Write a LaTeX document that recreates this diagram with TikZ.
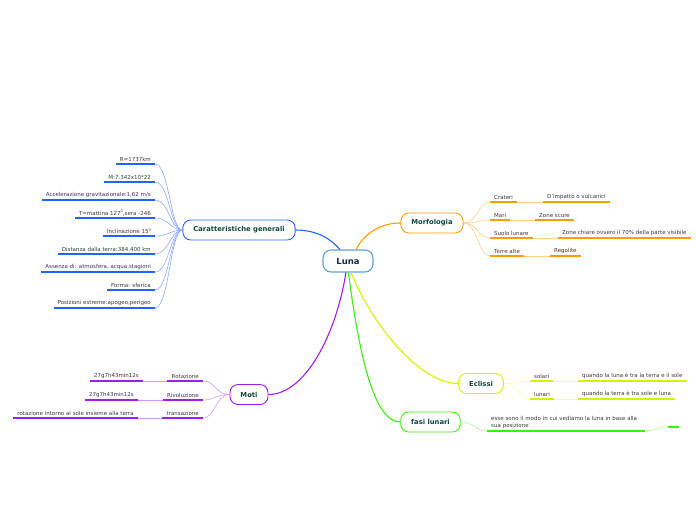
\documentclass[tikz,border=0pt]{standalone}
\usepackage{fontspec}
\setmainfont{DejaVu Sans}
\definecolor{cblue}{HTML}{2462FF}
\definecolor{cbluel}{HTML}{8EABFF}
\definecolor{corange}{HTML}{FF9C00}
\definecolor{corangel}{HTML}{FFD08A}
\definecolor{cyel}{HTML}{D2F200}
\definecolor{cyell}{HTML}{EEFFA0}
\definecolor{cgreen}{HTML}{3CEE14}
\definecolor{cgreenl}{HTML}{A6FF88}
\definecolor{cpurp}{HTML}{A21CF2}
\definecolor{cpurpl}{HTML}{D59AFF}
\definecolor{cluna}{HTML}{5EA2DA}
\definecolor{ctitle}{HTML}{0E4A3C}
\definecolor{cnavy}{HTML}{16284F}
\newcommand{\mydeg}{\raisebox{2.2pt}{\fontsize{3.6}{4}\selectfont 0}}
\begin{document}
\begin{tikzpicture}[x=1pt,y=-1pt,
  topic/.style={draw=#1, rounded corners=8pt, line width=0.9pt, fill=white,
     minimum height=20pt, inner xsep=10.5pt, font=\fontsize{6.8}{8}\selectfont\bfseries, text=ctitle},
  leaf/.style={font=\fontsize{5.5}{6.5}\selectfont, text=black!78, inner xsep=4pt, inner ysep=2pt},
  ul/.style={draw=#1, line width=1.4pt},
  conn/.style={draw=#1, line width=0.6pt},
  main/.style={draw=#1, line width=1.1pt}]
\useasboundingbox (0,0) rectangle (696,520);

% central
\node[draw=cluna, line width=1.1pt, rounded corners=8pt, fill=white, minimum width=50pt, minimum height=22pt,
  font=\fontsize{8.5}{9}\selectfont\bfseries, text=cnavy] (luna) at (348,261) {Luna};

% topics
\node[topic=cblue] (car) at (239,230) {Caratteristiche generali};
\node[topic=corange] (mor) at (432,223) {Morfologia};
\node[topic=cyel] (ecl) at (481,383.5) {Eclissi};
\node[topic=cgreen] (fas) at (430.5,422) {fasi lunari};
\node[topic=cpurp] (mot) at (249,394.5) {Moti};

% main connectors
\draw[main=cblue] (car.east) .. controls (318,230) and (332,240) .. (luna.125);
\draw[main=corange] (luna.55) .. controls (364,234) and (380,223) .. (mor.west);
\draw[main=cyel] (luna.-75) .. controls (372,325) and (420,383.5) .. (ecl.west);
\draw[main=cgreen] (luna.-88) .. controls (358,345) and (372,422) .. (fas.west);
\draw[main=cpurp] (luna.-100) .. controls (336,335) and (305,394.5) .. (mot.east);

% Caratteristiche generali leaves
\node[leaf, anchor=south east] (c1) at (155,164) {R=1737km};
\node[leaf, anchor=south east] (c2) at (155,182) {M:7.342x10*22};
\node[leaf, anchor=south east] (c3) at (155,200) {Accelerazione gravitazionale:1,62 m/s};
\node[leaf, anchor=south east] (c4) at (155,218) {T=mattina 127\mydeg,sera -246};
\node[leaf, anchor=south east] (c5) at (155,236) {Inclinazione 15\mydeg};
\node[leaf, anchor=south east] (c6) at (155,254) {Distanza dalla terra:384.400 km};
\node[leaf, anchor=south east] (c7) at (155,272) {Assenza di: atmosfera, acqua,stagioni};
\node[leaf, anchor=south east] (c8) at (155,290) {Forma: sferica};
\node[leaf, anchor=south east] (c9) at (155,308) {Posizioni estreme:apogeo,perigeo};
\foreach \n in {c1,c2,c3,c4,c5,c6,c7,c8,c9}{
  \draw[ul=cblue] (\n.south west) -- (\n.south east);
  \draw[conn=cbluel] (\n.south east) .. controls +(14,0) and +(-12,0) .. (car.west);
}

% Morfologia leaves
\node[leaf, anchor=south west] (m1) at (490,202) {Crateri};
\node[leaf, anchor=south west] (m2) at (490,220) {Mari};
\node[leaf, anchor=south west] (m3) at (490,238) {Suolo lunare};
\node[leaf, anchor=south west] (m4) at (490,256) {Terre alte};
\node[leaf, anchor=south west] (m1a) at (543,202) {D'impatto o vulcanici};
\node[leaf, anchor=south west] (m2a) at (535,220) {Zone scure};
\node[leaf, anchor=south west] (m3a) at (558,238) {Zone chiare ovvero il 70\% della parte visibile};
\node[leaf, anchor=south west] (m4a) at (550,256) {Regolite};
\foreach \n in {m1,m2,m3,m4}{
  \draw[ul=corange] (\n.south west) -- (\n.south east);
  \draw[conn=corangel] (mor.east) .. controls +(14,0) and +(-12,0) .. (\n.south west);
  \draw[ul=corange] (\n a.south west) -- (\n a.south east);
  \draw[conn=corangel] (\n.south east) -- (\n a.south west);
}

% Eclissi leaves
\node[leaf, anchor=south west] (e1) at (530,381) {solari};
\node[leaf, anchor=south west] (e2) at (530,399) {lunari};
\node[leaf, anchor=south west] (e1a) at (578,381) {quando la luna è tra la terra e il sole};
\node[leaf, anchor=south west] (e2a) at (578,399) {quando la terra è tra sole e luna};
\foreach \n in {e1,e2}{
  \draw[ul=cyel] (\n.south west) -- (\n.south east);
  \draw[conn=cyell] (ecl.east) .. controls +(14,0) and +(-12,0) .. (\n.south west);
  \draw[ul=cyel] (\n a.south west) -- (\n a.south east);
  \draw[conn=cyell] (\n.south east) -- (\n a.south west);
}

% fasi lunari
\node[leaf, anchor=south west, text width=150pt, align=left, font=\fontsize{5.5}{7}\selectfont] (f1) at (487,431)
  {esse sono il modo in cui vediamo la luna in base alla\\sua posizione};
\node[inner sep=0pt, minimum width=11pt, minimum height=0pt, anchor=south west] (f2) at (668,427) {};
\draw[ul=cgreen] (f1.south west) -- (f1.south east);
\draw[conn=cgreenl] (fas.east) .. controls +(14,0) and +(-12,0) .. (f1.south west);
\draw[ul=cgreen] (f2.south west) -- (f2.south east);
\draw[conn=cgreenl] (f1.south east) .. controls +(12,0) and +(-12,0) .. (f2.south west);

% Moti
\node[leaf, anchor=south east] (o1) at (203,381) {Rotazione};
\node[leaf, anchor=south east] (o2) at (203,400) {Rivoluzione};
\node[leaf, anchor=south east] (o3) at (203,418) {transazione};
\node[leaf, anchor=south east] (o1a) at (143,381) {27g7h43min12s};
\node[leaf, anchor=south east] (o2a) at (138,400) {27g7h43min12s};
\node[leaf, anchor=south east] (o3a) at (138,418) {rotazione intorno al sole insieme alla terra};
\foreach \n in {o1,o2,o3}{
  \draw[ul=cpurp] (\n.south west) -- (\n.south east);
  \draw[conn=cpurpl] (mot.west) .. controls +(-14,0) and +(12,0) .. (\n.south east);
  \draw[ul=cpurp] (\n a.south west) -- (\n a.south east);
  \draw[conn=cpurpl] (\n.south west) -- (\n a.south east);
}
\end{tikzpicture}
\end{document}
